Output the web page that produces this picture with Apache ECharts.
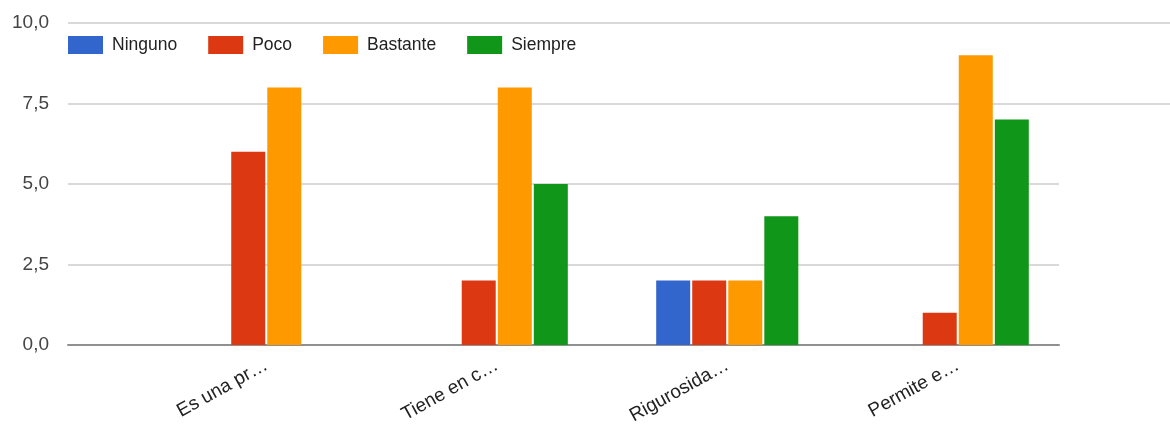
<!DOCTYPE html>
<html>
<head>
<meta charset="utf-8">
<script src="https://cdn.jsdelivr.net/npm/echarts@6/dist/echarts.min.js"></script>
<style>
  html, body { margin: 0; padding: 0; background: #fff; }
  #chart { width: 1170px; height: 424px; }
</style>
</head>
<body>
<div id="chart"></div>
<script>
// Survey answers per statement
const categories = ['Es una pr…', 'Tiene en c…', 'Rigurosida…', 'Permite e…'];
const seriesNames = ['Ninguno', 'Poco', 'Bastante', 'Siempre'];
const ninguno  = [0, 0, 2, 0];
const poco     = [6, 2, 2, 1];
const bastante = [8, 8, 2, 9];
const siempre  = [0, 5, 4, 7];
const yTicks = [0, 2.5, 5, 7.5, 10];

const colors = ['#3366cc', '#dc3912', '#ff9900', '#109618'];
const values = [ninguno, poco, bastante, siempre];
const FONT = 'Arial, "Liberation Sans", sans-serif';
const GRID_LINE = '#d9d9d9';
const CLEAR = 'rgba(0,0,0,0)';

const yBase = { type: 'value', min: yTicks[0], max: yTicks[yTicks.length - 1], interval: 2.5 };
// fixed plot boxes; labels may sit outside them
const gridBase = { top: 23, height: 322, containLabel: false, outerBoundsMode: 'none' };

const chart = echarts.init(document.getElementById('chart'), null, { renderer: 'canvas' });
chart.setOption({
  animation: false,
  backgroundColor: '#fff',
  color: colors,
  legend: {
    left: 68, top: 36, padding: 0,
    icon: 'rect', itemWidth: 35, itemHeight: 18, itemGap: 31,
    data: seriesNames,
    textStyle: { fontFamily: FONT, fontSize: 17.5, color: '#222', padding: [0, 0, 0, 4] }
  },
  grid: [
    // upper gridlines run across the full width
    Object.assign({ left: 68, right: 0 }, gridBase),
    // lower gridlines, axis labels and baseline
    Object.assign({ left: 68, right: 111 }, gridBase),
    // bar area
    Object.assign({ left: 151, right: 97 }, gridBase)
  ],
  xAxis: [
    { gridIndex: 0, type: 'category', data: categories, show: false },
    {
      gridIndex: 1, type: 'category', data: categories,
      axisLine: { show: true, lineStyle: { color: '#909090', width: 2 } },
      axisTick: { show: false }, axisLabel: { show: false }, splitLine: { show: false }
    },
    {
      gridIndex: 2, type: 'category', data: categories,
      axisLine: { show: false }, axisTick: { show: false }, splitLine: { show: false },
      axisLabel: {
        rotate: 29, margin: 19, interval: 0,
        fontFamily: FONT, fontSize: 19, color: '#222'
      }
    }
  ],
  yAxis: [
    Object.assign({}, yBase, {
      gridIndex: 0, axisLabel: { show: false }, axisLine: { show: false }, axisTick: { show: false },
      splitLine: { show: true, lineStyle: { color: [CLEAR, CLEAR, CLEAR, GRID_LINE, GRID_LINE], width: 2 } }
    }),
    Object.assign({}, yBase, {
      gridIndex: 1, axisLine: { show: false }, axisTick: { show: false },
      axisLabel: {
        margin: 19, fontFamily: FONT, fontSize: 19, color: '#444',
        formatter: v => v.toFixed(1).replace('.', ',')
      },
      splitLine: { show: true, lineStyle: { color: [GRID_LINE, GRID_LINE, GRID_LINE, CLEAR, CLEAR], width: 2 } }
    }),
    Object.assign({}, yBase, {
      gridIndex: 2, show: false, splitLine: { show: false }
    })
  ],
  series: seriesNames.map((name, i) => ({
    name: name,
    type: 'bar',
    xAxisIndex: 2,
    yAxisIndex: 2,
    data: values[i],
    barWidth: 34,
    barGap: '6%',
    itemStyle: { color: colors[i] }
  }))
});
</script>
</body>
</html>
